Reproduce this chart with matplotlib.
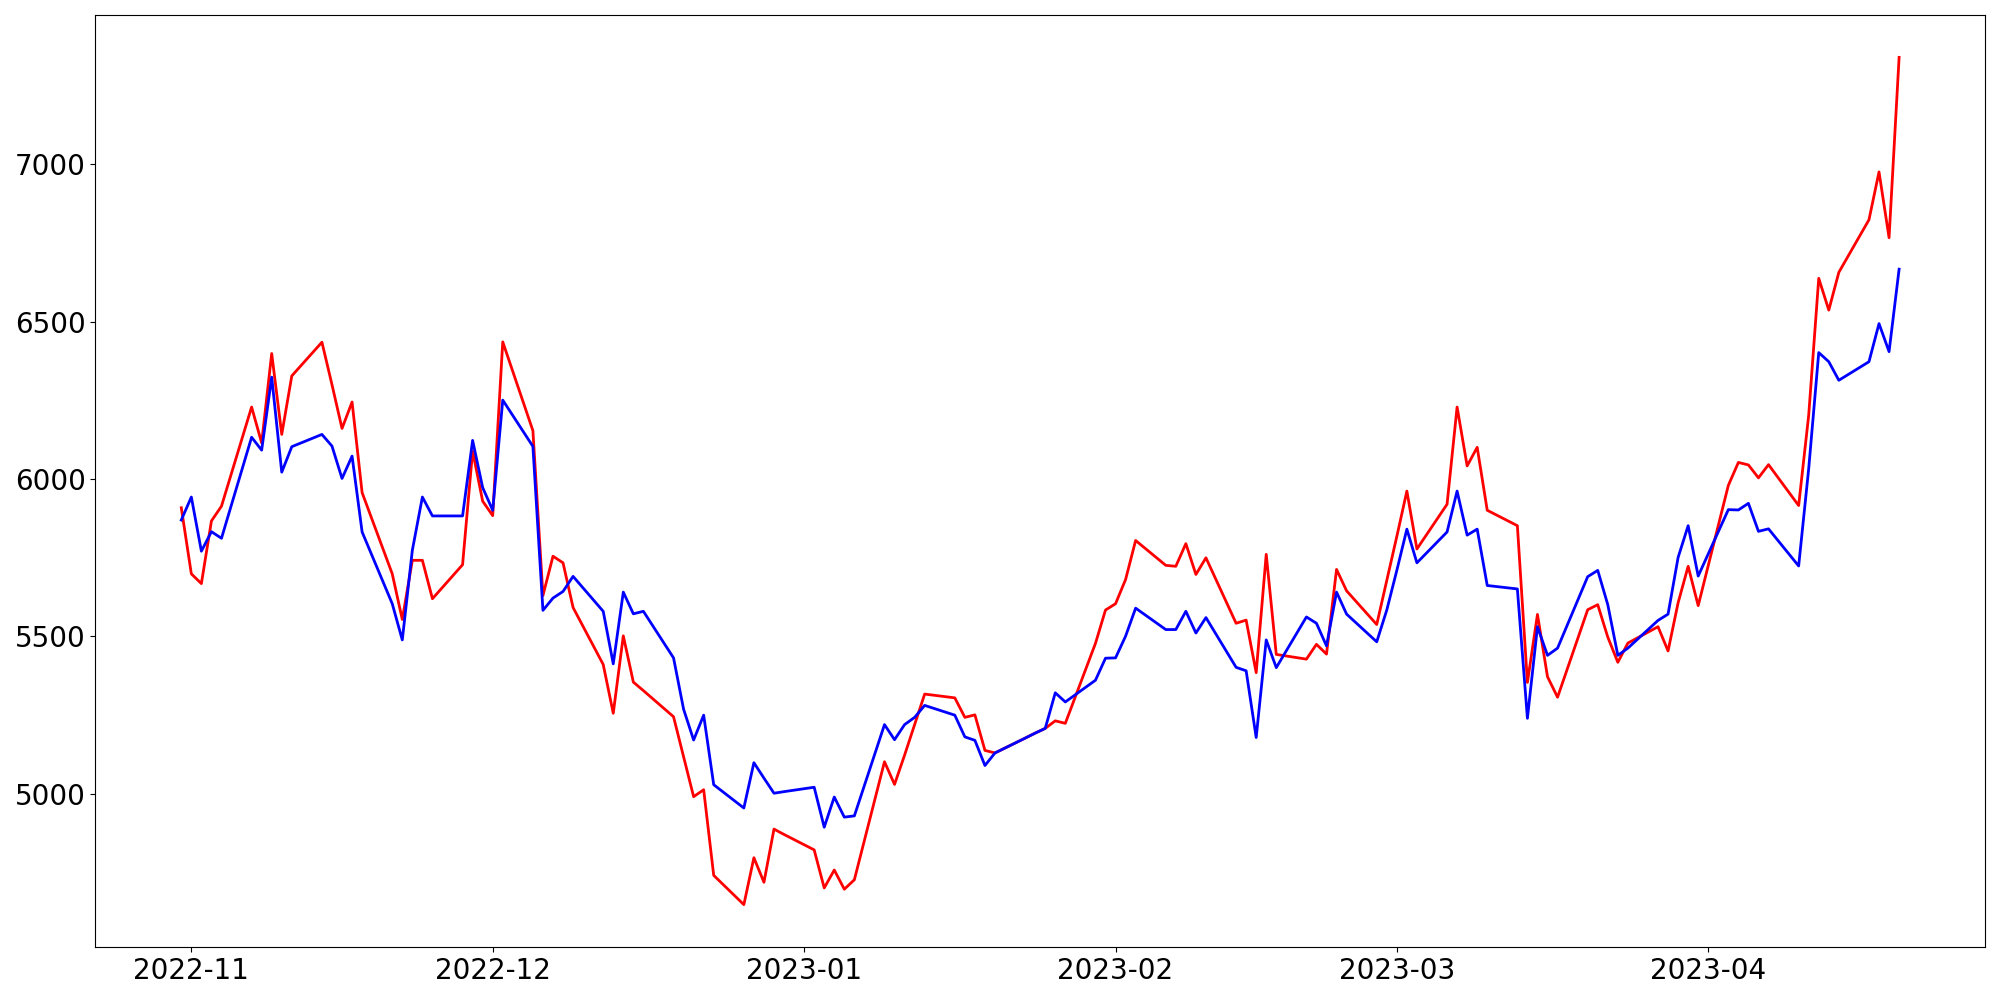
import matplotlib
matplotlib.use("Agg")
import matplotlib.pyplot as plt
import pandas as pd

dates = pd.bdate_range("2022-10-31", "2023-04-20")

red_oct = [5909]
red_nov = [5699, 5668, 5867, 5914, 6229, 6115, 6399, 6142, 6328, 6435, 6300, 6161, 6245, 5957,
           5699, 5554, 5742, 5742, 5620, 5728, 6089, 5930]
red_dec = [5884, 6436, 6154, 5630, 5755, 5734, 5592, 5411, 5256, 5502, 5355, 5328,
           5245, 5118, 4991, 5013, 4741, 4648, 4797, 4719, 4888, 4871]
red_jan = [4822, 4701, 4758, 4697, 4727, 5102, 5030, 5123, 5220, 5317, 5305, 5243, 5251, 5138, 5130,
           5177, 5193, 5208, 5232, 5224, 5478, 5584]
red_feb = [5604, 5681, 5805, 5726, 5723, 5795, 5697, 5750, 5542, 5552, 5385, 5761, 5443,
           5428, 5475, 5444, 5713, 5645, 5538, 5678]
red_mar = [5818, 5962, 5778, 5920, 6229, 6042, 6101, 5901, 5852, 5354, 5570, 5372, 5307,
           5585, 5601, 5498, 5418, 5479, 5531, 5454, 5607, 5723, 5598]
red_apr = [5980, 6053, 6045, 6004, 6046, 5916, 6203, 6638, 6537, 6657, 6824, 6976, 6767, 7340]

blue_oct = [5870]
blue_nov = [5943, 5771, 5833, 5812, 6133, 6092, 6324, 6022, 6103, 6142, 6105, 6002, 6073, 5832,
            5604, 5489, 5774, 5943, 5883, 5883, 6123, 5973]
blue_dec = [5901, 6251, 6104, 5583, 5622, 5643, 5691, 5580, 5413, 5641, 5572, 5580,
            5432, 5269, 5171, 5250, 5029, 4955, 5099, 5050, 5002, 5007]
blue_jan = [5021, 4894, 4990, 4926, 4930, 5220, 5172, 5220, 5243, 5281, 5250, 5181, 5170, 5090, 5130,
            5177, 5193, 5208, 5321, 5292, 5361, 5431]
blue_feb = [5432, 5501, 5590, 5522, 5522, 5580, 5511, 5560, 5402, 5391, 5179, 5489, 5401,
            5562, 5542, 5470, 5641, 5571, 5483, 5584]
blue_mar = [5710, 5841, 5734, 5832, 5962, 5822, 5841, 5662, 5651, 5240, 5531, 5440, 5463,
            5690, 5710, 5601, 5440, 5463, 5551, 5571, 5751, 5852, 5692]
blue_apr = [5903, 5902, 5923, 5834, 5842, 5724, 6033, 6402, 6373, 6314, 6373, 6494, 6405, 6667]

red = red_oct + red_nov + red_dec + red_jan + red_feb + red_mar + red_apr
blue = blue_oct + blue_nov + blue_dec + blue_jan + blue_feb + blue_mar + blue_apr

n = min(len(dates), len(red), len(blue))

fig, ax = plt.subplots(figsize=(20, 10), dpi=100)
fig.subplots_adjust(left=0.0477, right=0.9925, bottom=0.053, top=0.985)
ax.plot(dates[:n], red[:n], color="red", linewidth=2)
ax.plot(dates[:n], blue[:n], color="blue", linewidth=2)
ax.set_yticks([5000, 5500, 6000, 6500, 7000])
ax.tick_params(axis="both", labelsize=20)
fig.savefig("out.png", dpi=100)
